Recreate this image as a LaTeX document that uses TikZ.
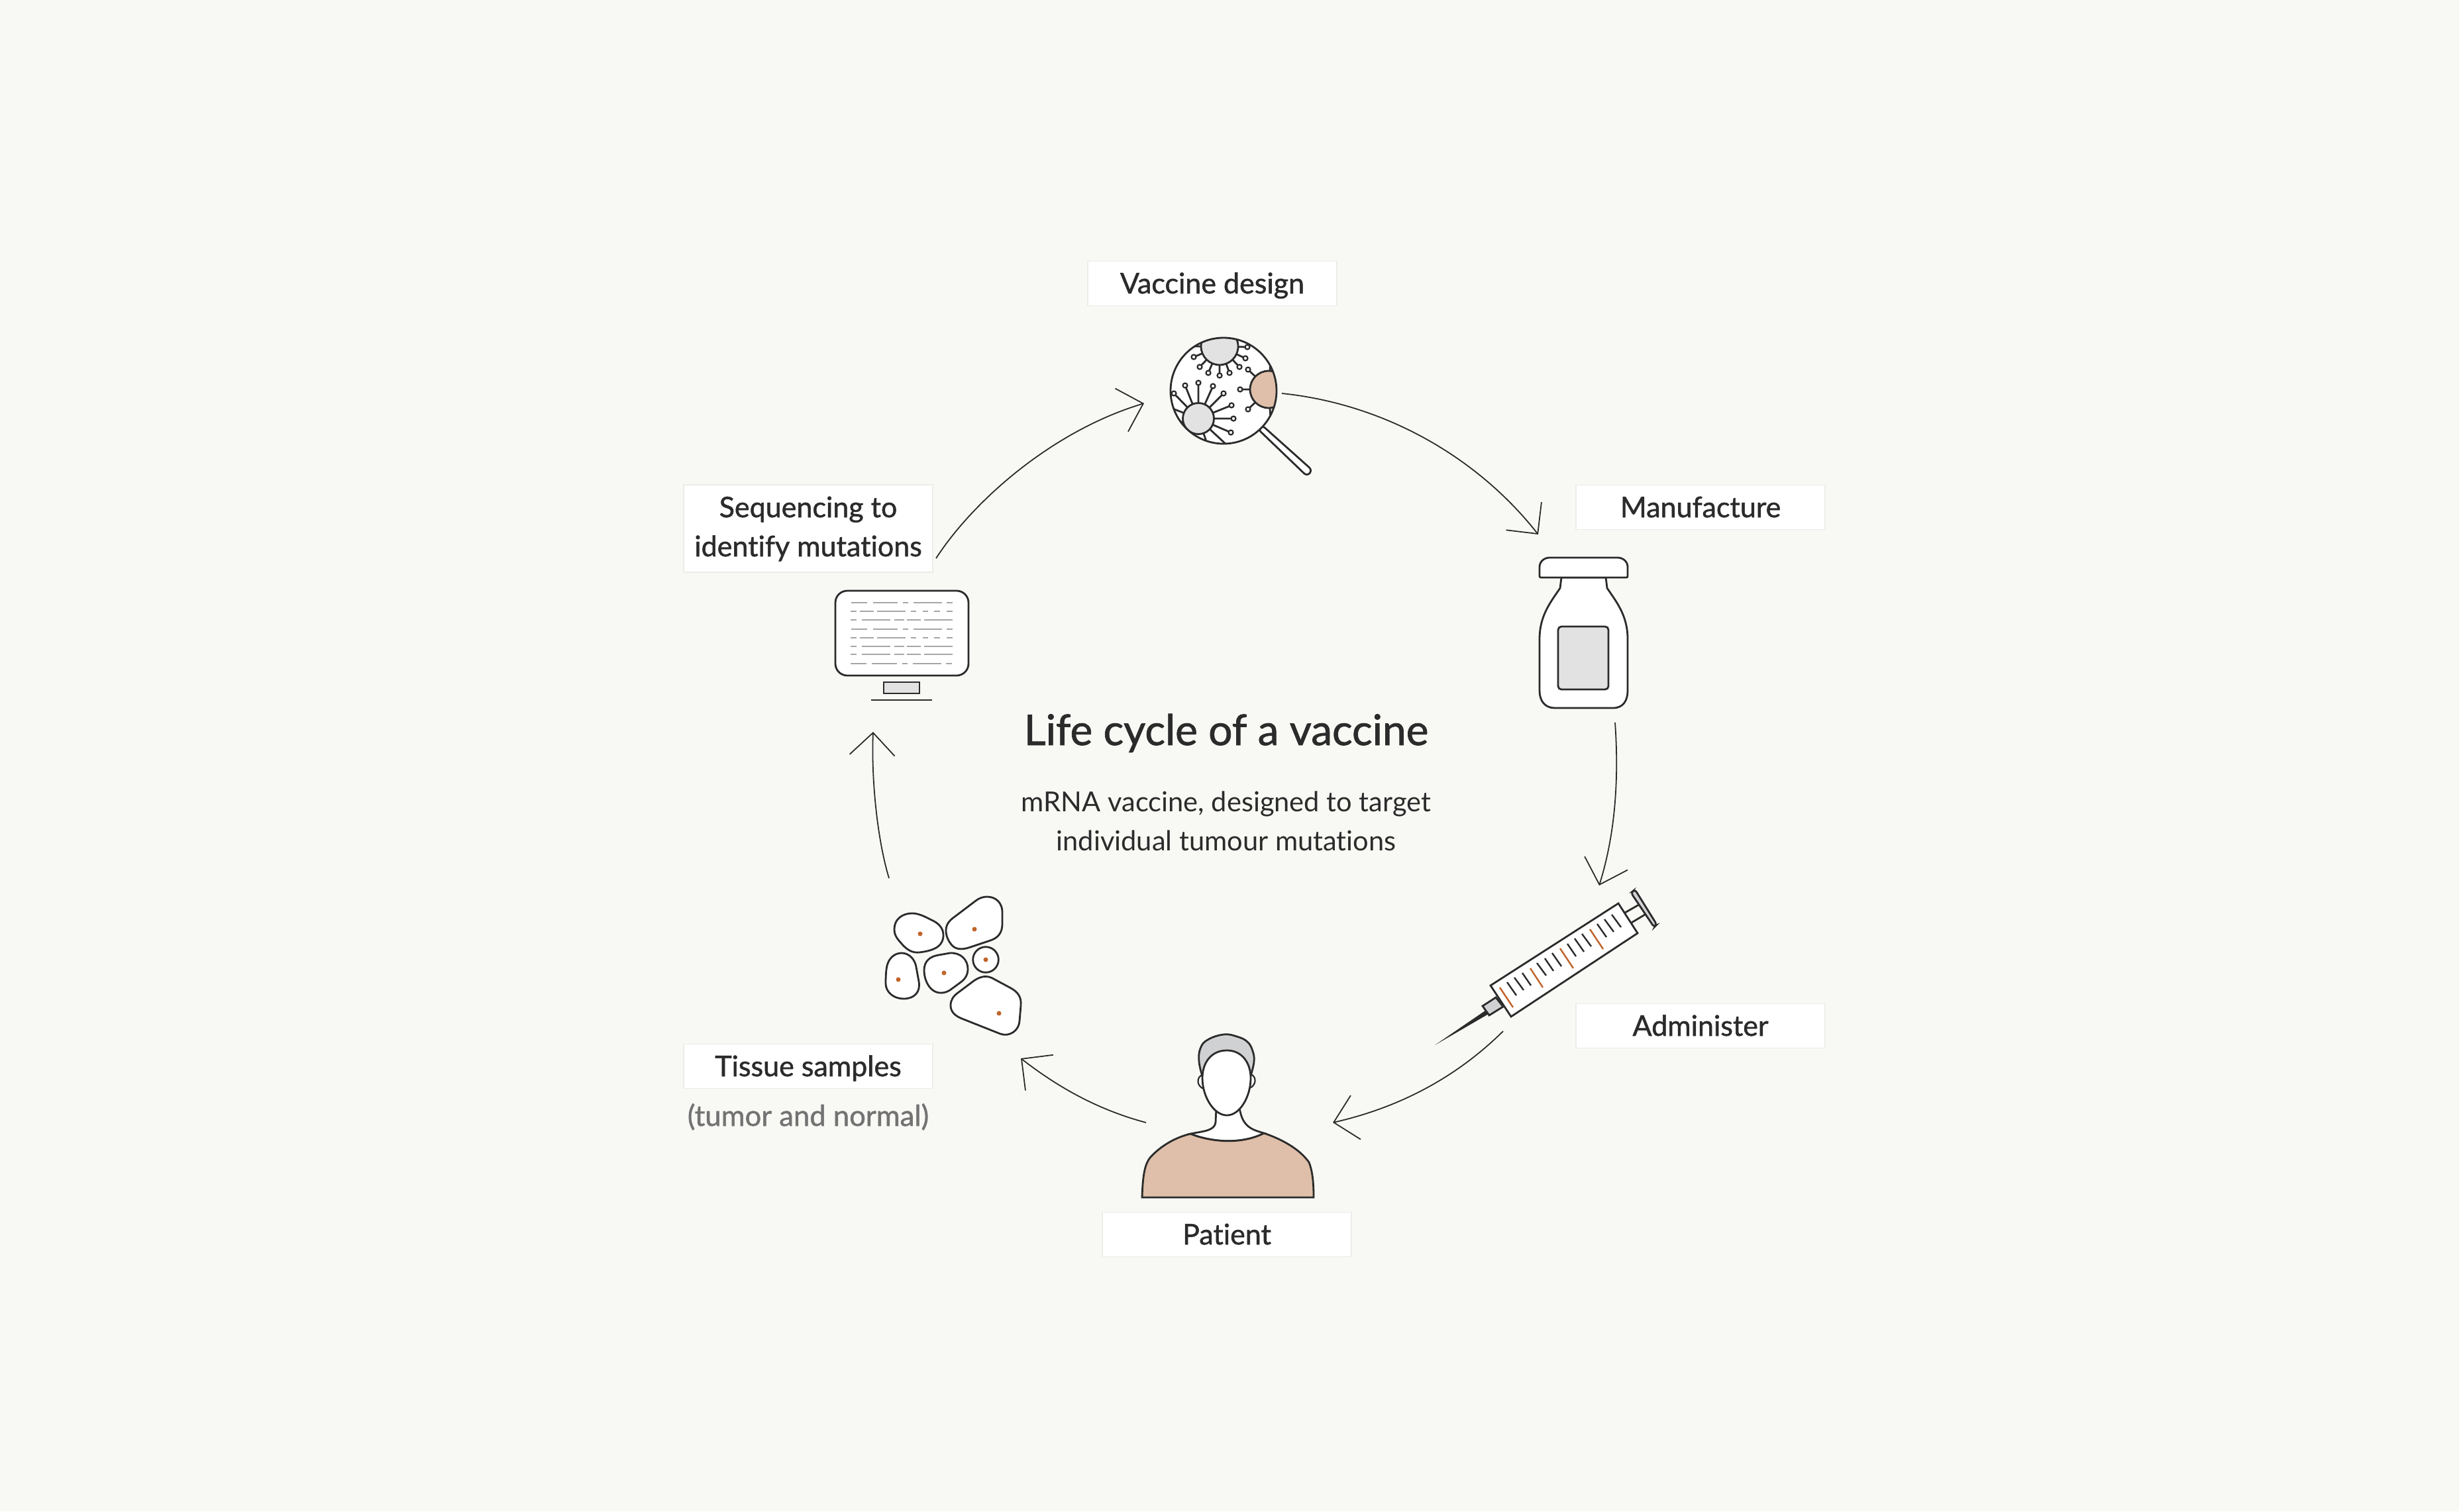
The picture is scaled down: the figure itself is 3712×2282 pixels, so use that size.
\documentclass[tikz,border=0pt]{standalone}
\usepackage{fontspec}
\usetikzlibrary{arrows.meta}
\setmainfont{Lato}[Ligatures=NoCommon]
\newfontfamily\labelfont{Lato}[Ligatures=NoCommon,BoldFont=Lato,BoldFeatures={FakeBold=1.2}]

\tikzset{every picture/.style={line width=0.7pt}}
\tikzset{
ink/.style={draw={rgb, 255:red, 43; green, 43; blue, 43 }},
grey fill/.style={fill={rgb, 255:red, 227; green, 226; blue, 227 }},
dark grey fill/.style={fill={rgb, 255:red, 208; green, 209; blue, 211 }},
peach fill/.style={fill={rgb, 255:red, 223; green, 191; blue, 169 }},
cycle arrow/.style={draw={rgb, 255:red, 43; green, 43; blue, 43 }, line width=0.45pt, -{Straight Barb[length=8.5pt,width=17pt]}},
label box/.style={draw={rgb, 255:red, 236; green, 236; blue, 233 }, line width=0.4pt, fill=white, inner sep=0pt, minimum width=94pt, minimum height=16.75pt, align=center, text height=7.5pt, text depth=0pt, font=\labelfont\bfseries\fontsize{10.75}{14.75}\selectfont, text={rgb, 255:red, 43; green, 43; blue, 43 }},
screen text/.style={draw={rgb, 255:red, 166; green, 166; blue, 166 }, line width=0.5pt},
mark red/.style={draw={rgb, 255:red, 192; green, 100; blue, 42 }},
cell dot/.style={fill={rgb, 255:red, 192; green, 100; blue, 42 }}
}

\begin{document}
\begin{tikzpicture}[x=0.25pt,y=0.25pt,yscale=-1,xscale=1]
%set diagram size to the full canvas
\useasboundingbox (0,0) rectangle (3712,2282);
\fill [fill={rgb, 255:red, 248; green, 249; blue, 245 }] (0,0) rectangle (3712,2282);

%Ends of the connectors
\coordinate (seqout) at (1413,843);
\coordinate (designin) at (1727,609);
\coordinate (designout) at (1935,594);
\coordinate (vialin) at (2322,807);
\coordinate (vialout) at (2438,1091);
\coordinate (syringein) at (2414,1337);
\coordinate (syringeout) at (2269,1557);
\coordinate (patientin) at (2012,1695);
\coordinate (patientout) at (1730,1695);
\coordinate (tissuein) at (1541,1598);
\coordinate (tissueout) at (1342,1326);
\coordinate (seqin) at (1318,1105);

%Curve Lines
\draw [cycle arrow] (seqout) .. controls (1470,755) and (1590,650) .. (designin);
\draw [cycle arrow] (designout) .. controls (2090,610) and (2230,690) .. (vialin);
\draw [cycle arrow] (vialout) .. controls (2445,1190) and (2435,1270) .. (syringein);
\draw [cycle arrow] (syringeout) .. controls (2190,1635) and (2100,1675) .. (patientin);
\draw [cycle arrow] (patientout) .. controls (1655,1675) and (1595,1640) .. (tissuein);
\draw [cycle arrow] (tissueout) .. controls (1325,1270) and (1315,1180) .. (seqin);

%Shape: Magnifier handle
\draw [ink, fill=white, rounded corners=1.5pt] (1899,648) -- (1905,642) -- (1981,710) -- (1973,719) -- cycle;
%Shape: Magnifier glass
\fill [white] (1847,590) circle (80);
\begin{scope}
\clip (1847,590) circle (80);
%Top virus
\draw [ink] (1841,523) -- (1802,539) (1841,523) -- (1811,554) (1841,523) -- (1824,563) (1841,523) -- (1841,567) (1841,523) -- (1856,563) (1841,523) -- (1871,554) (1841,523) -- (1880,541) (1841,523) -- (1883,524) (1841,523) -- (1800,523);
\draw [ink, grey fill] (1841,523) circle (28);
\draw [ink, fill=white, line width=0.55pt] (1802,539) circle (3.5) (1811,554) circle (3.5) (1824,563) circle (3.5) (1841,567) circle (3.5) (1856,563) circle (3.5) (1871,554) circle (3.5) (1880,541) circle (3.5) (1883,524) circle (3.5);
%Lower virus
\draw [ink] (1809,632) -- (1789,582) (1809,632) -- (1809,578) (1809,632) -- (1831,583) (1809,632) -- (1847,594) (1809,632) -- (1859,612) (1809,632) -- (1862,632) (1809,632) -- (1858,653) (1809,632) -- (1772,594) (1809,632) -- (1765,615) (1809,632) -- (1768,640) (1809,632) -- (1823,672) (1809,632) -- (1852,672);
\draw [ink, grey fill] (1809,632) circle (23.5);
\draw [ink, fill=white, line width=0.55pt] (1789,582) circle (3.5) (1809,578) circle (3.5) (1831,583) circle (3.5) (1847,594) circle (3.5) (1859,612) circle (3.5) (1862,632) circle (3.5) (1858,653) circle (3.5) (1772,594) circle (3.5);
%Right virus
\draw [ink] (1915,588) -- (1884,558) (1915,588) -- (1872,588) (1915,588) -- (1884,618) (1915,588) -- (1918,545) (1915,588) -- (1918,632);
\draw [ink, peach fill] (1915,588) circle (28);
\draw [ink, fill=white, line width=0.55pt] (1884,558) circle (3.5) (1872,588) circle (3.5) (1884,618) circle (3.5);
\end{scope}
\draw [ink] (1847,590) circle (80);

%Shape: Vial
\draw [ink, fill=white] (2357,872) -- (2355,888) .. controls (2340,910) and (2324,930) .. (2324,965) -- (2324,1043) .. controls (2324,1058) and (2332,1069) .. (2347,1069) -- (2435,1069) .. controls (2450,1069) and (2457,1058) .. (2457,1043) -- (2457,965) .. controls (2457,930) and (2441,910) .. (2426,888) -- (2424,872) -- cycle;
\draw [ink, fill=white] (2326,872) .. controls (2325,872) and (2324,871) .. (2324,870) -- (2324,856) .. controls (2324,848) and (2331,842) .. (2339,842) -- (2442,842) .. controls (2450,842) and (2457,848) .. (2457,856) -- (2457,870) .. controls (2457,871) and (2456,872) .. (2455,872) -- cycle;
\draw [ink, grey fill, rounded corners=1.25pt] (2352,946) rectangle (2428,1041);

%Shape: Syringe
\draw [ink] (2453,1378) -- (2474,1366) (2463,1393) -- (2483,1381);
\draw [ink, dark grey fill, rounded corners=1pt] (2462,1348) -- (2468,1343) -- (2501,1396) -- (2497,1400) -- cycle;
\fill [fill={rgb, 255:red, 43; green, 43; blue, 43 }] (2242,1526) -- (2247,1531) -- (2166,1578) -- cycle;
\draw [ink, dark grey fill] (2238,1519) -- (2258,1506) -- (2269,1520) -- (2248,1533) -- cycle;
\draw [ink, fill=white] (2250,1488) -- (2443,1364) -- (2472,1409) -- (2281,1535) -- cycle;
%Straight Lines
\draw [ink, line width=0.6pt] (2275,1483) -- (2289,1503) (2286,1476) -- (2300,1495) (2298,1469) -- (2311,1488) (2320,1454) -- (2334,1473) (2332,1447) -- (2345,1466) (2343,1439) -- (2357,1459) (2366,1425) -- (2379,1444) (2377,1417) -- (2391,1437) (2388,1410) -- (2402,1429) (2411,1395) -- (2425,1415) (2422,1388) -- (2436,1407) (2433,1381) -- (2447,1400);
\draw [mark red, line width=0.6pt] (2264,1491) -- (2284,1521) (2310,1462) -- (2329,1491) (2355,1432) -- (2375,1462) (2400,1403) -- (2420,1433);

%Shape: Patient
\draw [ink, fill=white] (1836,1672) -- (1835,1695) .. controls (1833,1708) and (1815,1708) .. (1797,1712) .. controls (1830,1725) and (1875,1728) .. (1908,1711) .. controls (1892,1706) and (1875,1703) .. (1871,1672) -- cycle;
\draw [ink, peach fill] (1724,1808) .. controls (1725,1775) and (1728,1758) .. (1736,1748) .. controls (1752,1730) and (1775,1717) .. (1797,1712) .. controls (1830,1725) and (1875,1728) .. (1908,1711) .. controls (1935,1720) and (1962,1735) .. (1976,1755) .. controls (1982,1770) and (1983,1790) .. (1983,1808) -- cycle;
\draw [ink, line width=0.55pt, fill=white] (1815,1623) .. controls (1806,1626) and (1806,1640) .. (1817,1644) -- cycle;
\draw [ink, line width=0.55pt, fill=white] (1888,1622) .. controls (1897,1625) and (1897,1639) .. (1886,1643) -- cycle;
\draw [ink, dark grey fill] plot [smooth, tension=0.7] coordinates {(1815,1625) (1810,1603) (1812,1583) (1823,1570) (1847,1562) (1867,1565) (1883,1573) (1891,1587) (1893,1603) (1888,1624)} -- cycle;
\draw [ink, fill=white] (1852,1586) .. controls (1828,1586) and (1815,1605) .. (1815,1628) .. controls (1815,1655) and (1832,1684) .. (1852,1684) .. controls (1872,1684) and (1888,1655) .. (1888,1628) .. controls (1888,1605) and (1875,1586) .. (1852,1586) -- cycle;

%Shape: Cells
\draw [ink, fill=white] (1350,1403) .. controls (1350,1388) and (1362,1379) .. (1377,1379) .. controls (1388,1379) and (1400,1386) .. (1410,1391) .. controls (1419,1396) and (1424,1403) .. (1424,1412) .. controls (1424,1428) and (1412,1435) .. (1388,1438) .. controls (1378,1439) and (1370,1435) .. (1362,1426) .. controls (1355,1418) and (1350,1413) .. (1350,1403) -- cycle;
\draw [ink, fill=white] (1428,1405) .. controls (1428,1396) and (1433,1390) .. (1440,1385) -- (1473,1360) .. controls (1478,1356) and (1484,1354) .. (1490,1354) .. controls (1504,1354) and (1513,1364) .. (1513,1377) -- (1513,1395) .. controls (1513,1408) and (1507,1416) .. (1495,1420) -- (1462,1431) .. controls (1452,1434) and (1442,1434) .. (1436,1426) .. controls (1431,1420) and (1428,1413) .. (1428,1405) -- cycle;
\draw [ink, fill=white] (1488,1449) circle (19.3);
\draw [ink, fill=white] (1337,1485) .. controls (1337,1470) and (1338,1460) .. (1340,1455) .. controls (1343,1446) and (1351,1439) .. (1361,1439) .. controls (1372,1439) and (1381,1448) .. (1383,1460) -- (1387,1482) .. controls (1390,1498) and (1380,1508) .. (1364,1508) .. controls (1349,1508) and (1337,1498) .. (1337,1485) -- cycle;
\draw [ink, fill=white] (1395,1465) .. controls (1395,1451) and (1404,1444) .. (1417,1442) -- (1434,1439) .. controls (1450,1438) and (1461,1449) .. (1461,1463) .. controls (1461,1473) and (1456,1479) .. (1449,1484) -- (1434,1495) .. controls (1426,1500) and (1416,1501) .. (1408,1495) .. controls (1400,1489) and (1395,1477) .. (1395,1465) -- cycle;
\draw [ink, fill=white] (1435,1518) .. controls (1435,1510) and (1439,1504) .. (1446,1499) -- (1470,1481) .. controls (1480,1474) and (1490,1472) .. (1500,1478) -- (1526,1492) .. controls (1537,1498) and (1542,1506) .. (1541,1518) -- (1539,1542) .. controls (1538,1556) and (1524,1566) .. (1510,1561) -- (1452,1538) .. controls (1442,1534) and (1435,1528) .. (1435,1518) -- cycle;
\fill [cell dot] (1389,1410) circle (3.5) (1471,1403) circle (3.5) (1488,1449) circle (3.5) (1356,1479) circle (3.5) (1425,1469) circle (3.5) (1508,1530) circle (3.5);

%Shape: Monitor
\draw [ink, fill=white, rounded corners=4.5pt] (1261,892) rectangle (1462,1020);
\draw [screen text] (1285,910) -- (1309,910) (1318,910) -- (1355,910) (1363,910) -- (1371,910) (1379,910) -- (1422,910) (1429,910) -- (1438,910);
\draw [screen text] (1284,923) -- (1293,923) (1298,923) -- (1319,923) (1324,923) -- (1367,923) (1375,923) -- (1383,923) (1393,923) -- (1401,923) (1410,923) -- (1419,923) (1429,923) -- (1438,923);
\draw [screen text] (1284,936) -- (1293,936) (1301,936) -- (1344,936) (1350,936) -- (1365,936) (1369,936) -- (1390,936) (1395,936) -- (1438,936);
\draw [screen text] (1285,950) -- (1309,950) (1318,950) -- (1355,950) (1363,950) -- (1371,950) (1379,950) -- (1422,950) (1429,950) -- (1438,950);
\draw [screen text] (1284,963) -- (1293,963) (1298,963) -- (1319,963) (1324,963) -- (1367,963) (1375,963) -- (1383,963) (1393,963) -- (1401,963) (1410,963) -- (1419,963) (1429,963) -- (1438,963);
\draw [screen text] (1284,976) -- (1293,976) (1301,976) -- (1344,976) (1350,976) -- (1365,976) (1369,976) -- (1390,976) (1395,976) -- (1438,976);
\draw [screen text] (1284,988) -- (1293,988) (1301,988) -- (1344,988) (1350,988) -- (1365,988) (1369,988) -- (1390,988) (1395,988) -- (1438,988);
\draw [screen text] (1284,1002) -- (1308,1002) (1316,1002) -- (1354,1002) (1362,1002) -- (1370,1002) (1378,1002) -- (1421,1002) (1428,1002) -- (1437,1002);
\draw [ink, grey fill] (1334,1030) rectangle (1388,1047);
\draw [ink] (1315,1057) -- (1407,1057);

% Text Node
\draw (1830,428) node (designlabel) [label box] {Vaccine design};
% Text Node
\draw (2567,766) node (viallabel) [label box] {Manufacture};
% Text Node
\draw (2567,1549) node (administerlabel) [label box] {Administer};
% Text Node
\draw (1852,1864) node (patientlabel) [label box] {Patient};
% Text Node
\draw (1220,1610) node (tissuelabel) [label box] {Tissue samples};
% Text Node
\draw (1220,798) node (seqlabel) [label box, minimum height=33pt, text height=21pt] {Sequencing to\\identify mutations};
% Text Node
\draw (1220,1685) node (tissuenote) [inner sep=0pt, text height=7.5pt, text depth=0pt, font=\labelfont\bfseries\fontsize{10.9}{14.75}\selectfont, text={rgb, 255:red, 115; green, 115; blue, 115 }] {(tumor and normal)};
% Text Node
\draw (1851,1103) node (titletext) [inner sep=0pt, text height=11pt, text depth=0pt, font=\labelfont\bfseries\fontsize{16}{19}\selectfont, text={rgb, 255:red, 43; green, 43; blue, 43 }] {Life cycle of a vaccine};
% Text Node
\draw (1851,1240) node (subtitletext) [inner sep=0pt, align=center, font=\fontsize{10.4}{14.75}\selectfont, text={rgb, 255:red, 43; green, 43; blue, 43 }] {mRNA vaccine, designed to target\\individual tumour mutations};

\end{tikzpicture}
\end{document}
